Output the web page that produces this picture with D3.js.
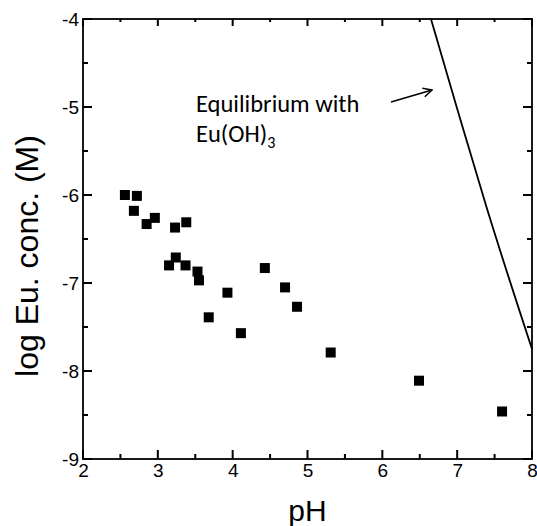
<!DOCTYPE html>
<html lang="en">
<head>
<meta charset="UTF-8">
<title>Eu solubility</title>
<style>
  body { margin: 0; background: #fff; }
  text { fill: #000; }
</style>
</head>
<body>
<svg width="537" height="526" id="svg"></svg>
<script src="https://d3js.org/d3.v7.min.js"></script>
<script>
// measured points
const phValues = [2.56, 2.72, 2.68, 2.85, 2.96, 3.23, 3.38, 3.24, 3.15, 3.37, 3.53, 3.55, 3.93, 3.68, 4.11, 4.43, 4.70, 4.86, 5.31, 6.49, 7.60]
const logConc = [-6.00, -6.01, -6.18, -6.33, -6.26, -6.37, -6.31, -6.71, -6.80, -6.80, -6.87, -6.97, -7.11, -7.39, -7.57, -6.83, -7.05, -7.27, -7.79, -8.11, -8.46]

// Eu(OH)3 equilibrium curve
const eqPh = [6.65, 7.0, 7.4, 8.0]
const eqLog = [-4.0, -5.02, -6.16, -7.75]

const xTicks = [2, 3, 4, 5, 6, 7, 8]
const yTicks = [-4, -5, -6, -7, -8, -9]

const margin = { top: 19, right: 5, bottom: 67, left: 83 }
const svg = d3.select("svg#svg")
const width = +svg.attr("width")
const height = +svg.attr("height")
const innerWidth = width - margin.left - margin.right
const innerHeight = height - margin.top - margin.bottom

const x = d3.scaleLinear().domain([2, 8]).range([0, innerWidth])
const y = d3.scaleLinear().domain([-9, -4]).range([innerHeight, 0])

const g = svg.append("g").attr("transform", `translate(${margin.left},${margin.top})`)

const minorX = d3.range(2.5, 8, 1)
const minorY = d3.range(-8.5, -4, 1)
const font = "'Liberation Sans', Arial, sans-serif"

// tick labels through the axes
g.append("g").attr("transform", `translate(0,${innerHeight})`)
  .call(d3.axisBottom(x).tickValues(xTicks).tickSize(0).tickPadding(5).tickFormat(d3.format("d")))
g.append("g")
  .call(d3.axisLeft(y).tickValues(yTicks).tickSize(0).tickPadding(4).tickFormat(d => "-" + Math.abs(d)))
g.selectAll(".domain").remove()
g.selectAll(".tick text").attr("font-size", 19).attr("font-family", font)

// inward tick marks on all four sides
const tickG = g.append("g")
const xt = xTicks.map(v => [v, 9]).concat(minorX.map(v => [v, 5]))
const yt = yTicks.map(v => [v, 9]).concat(minorY.map(v => [v, 5]))
tickG.selectAll("rect.xb").data(xt).join("rect").attr("class", "xb")
  .attr("x", d => x(d[0]) - 1).attr("y", d => innerHeight - d[1]).attr("width", 2).attr("height", d => d[1])
tickG.selectAll("rect.xt").data(xt).join("rect").attr("class", "xt")
  .attr("x", d => x(d[0]) - 1).attr("y", 0).attr("width", 2).attr("height", d => d[1] - 2)
tickG.selectAll("rect.yl").data(yt).join("rect").attr("class", "yl")
  .attr("x", 0).attr("y", d => y(d[0]) - 1).attr("width", d => d[1]).attr("height", 2)
tickG.selectAll("rect.yr").data(yt).join("rect").attr("class", "yr")
  .attr("x", d => innerWidth - d[1]).attr("y", d => y(d[0]) - 1).attr("width", d => d[1]).attr("height", 2)
tickG.selectAll("rect").attr("fill", "#000")

g.append("rect").attr("width", innerWidth).attr("height", innerHeight)
  .attr("fill", "none").attr("stroke", "#000").attr("stroke-width", 1.8)

// equilibrium line
const line = d3.line().x(d => x(d[0])).y(d => y(d[1])).curve(d3.curveMonotoneX)
g.append("path").datum(eqPh.map((p, i) => [p, eqLog[i]]))
  .attr("fill", "none").attr("stroke", "#000").attr("stroke-width", 1.8).attr("d", line)

// data squares
const s = 10
g.selectAll("rect.pt").data(phValues).join("rect").attr("class", "pt")
  .attr("x", d => x(d) - s / 2)
  .attr("y", (d, i) => y(logConc[i]) - s / 2)
  .attr("width", s).attr("height", s).attr("fill", "#000")

// annotation
const annFont = "Carlito, Lato, 'Open Sans', sans-serif"
g.append("text").attr("font-family", annFont).attr("font-size", 24.5)
  .attr("x", 113).attr("y", 93).text("Equilibrium with")
const t2 = g.append("text").attr("font-family", annFont).attr("font-size", 24.5)
  .attr("x", 113).attr("y", 123)
t2.append("tspan").text("Eu(OH)")
t2.append("tspan").attr("font-size", 16).attr("dy", 6).text("3")

svg.append("defs").append("marker").attr("id", "arr").attr("viewBox", "0 0 10 10")
  .attr("refX", 9).attr("refY", 5).attr("markerWidth", 11).attr("markerHeight", 11)
  .attr("markerUnits", "userSpaceOnUse").attr("orient", "auto")
  .append("path").attr("d", "M1,1 L9,5 L1,9").attr("fill", "none").attr("stroke", "#000").attr("stroke-width", 1.4)
g.append("line").attr("x1", 308).attr("y1", 83).attr("x2", 349).attr("y2", 71)
  .attr("stroke", "#000").attr("stroke-width", 1.6).attr("marker-end", "url(#arr)")

// axis titles
svg.append("text").attr("x", margin.left + innerWidth / 2).attr("y", 521)
  .attr("text-anchor", "middle").attr("font-family", font)
  .attr("font-size", 30).text("pH")
svg.append("text").attr("transform", `translate(38,256) rotate(-90)`)
  .attr("text-anchor", "middle").attr("font-family", font)
  .attr("font-size", 32).text("log Eu. conc. (M)")
</script>
</body>
</html>
